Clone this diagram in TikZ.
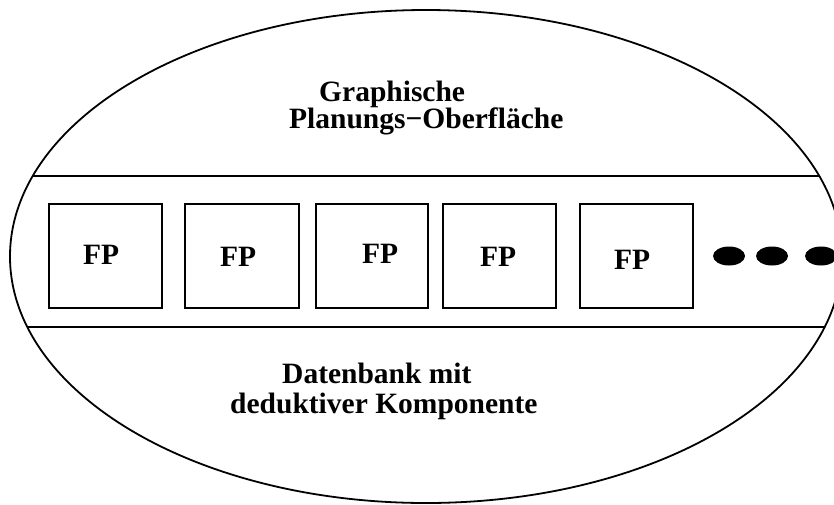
\documentclass[tikz,border=0pt]{standalone}
\usepackage{fontspec}
\setmainfont{Liberation Serif}
\usetikzlibrary{shapes.geometric}
\begin{document}
\begin{tikzpicture}[x=1pt,y=-1pt,
  outline/.style={draw=black,line width=1.8pt},
  fpbox/.style={outline,rectangle,inner sep=0pt},
  lbl/.style={font=\fontsize{29.5}{30}\selectfont\bfseries,inner sep=0pt},
  dot/.style={fill=black,ellipse,minimum width=32pt,minimum height=19pt,inner sep=0pt}]
\useasboundingbox (0,0) rectangle (834,504);
% outer oval
\node[outline,ellipse,minimum width=832pt,minimum height=493pt,inner sep=0pt] (oval) at (426,256.5) {};
% band borders, ending on the oval
\coordinate (tl) at (32.8,176);
\coordinate (tr) at (819.2,176);
\coordinate (bl) at (27.4,327);
\coordinate (br) at (824.6,327);
\draw[line width=1.8pt] (tl) -- (tr);
\draw[line width=1.8pt] (bl) -- (br);
% component boxes
\draw[fpbox] (49,204) rectangle (162,308);
\draw[fpbox] (185,204) rectangle (299,308);
\draw[fpbox] (316,204) rectangle (428,308);
\draw[fpbox] (443,204) rectangle (556,308);
\draw[fpbox] (580,204) rectangle (693,308);
\node[lbl,anchor=base west] (fp1) at (83,264) {FP};
\node[lbl,anchor=base west] (fp2) at (220,266) {FP};
\node[lbl,anchor=base west] (fp3) at (362,263) {FP};
\node[lbl,anchor=base west] (fp4) at (480,266) {FP};
\node[lbl,anchor=base west] (fp5) at (614,269) {FP};
% continuation dots
\node[dot] (d1) at (729,256) {};
\node[dot] (d2) at (772,256) {};
\node[dot] (d3) at (821,256) {};
% headings
\node[lbl,anchor=base west] (t1) at (319,101) {Graphische};
\node[lbl,anchor=base west] (t2) at (289,128.5) {Planungs−Oberfläche};
\node[lbl,anchor=base west] (b1) at (282,383) {Datenbank mit};
\node[lbl,anchor=base west] (b2) at (230,413) {deduktiver Komponente};
\end{tikzpicture}
\end{document}
